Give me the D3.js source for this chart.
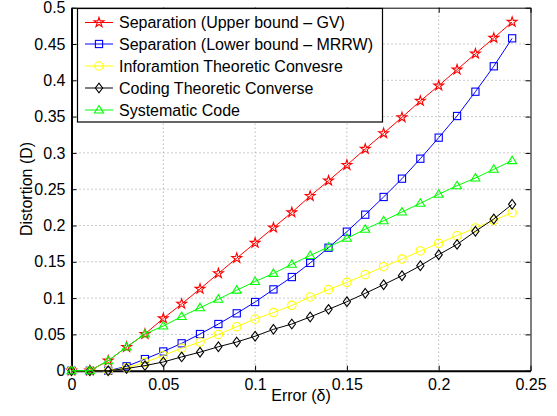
<!DOCTYPE html>
<html>
<head>
<meta charset="UTF-8">
<title>Distortion vs Error</title>
<script src="https://cdn.jsdelivr.net/npm/d3@7/dist/d3.min.js"></script>
<style>
  body { margin: 0; background: #fff; }
  text { font-family: "Liberation Sans", Arial, Helvetica, sans-serif; }
</style>
</head>
<body>
<svg id="mySvg" width="557" height="416"></svg>
<script>
    // error values delta = 0, 0.01, ..., 0.24
    var errors = [0, 0.01, 0.02, 0.03, 0.04, 0.05, 0.06, 0.07, 0.08, 0.09, 0.10, 0.11, 0.12,
        0.13, 0.14, 0.15, 0.16, 0.17, 0.18, 0.19, 0.20, 0.21, 0.22, 0.23, 0.24];
    var upperGV = [0, 0, 0.0138, 0.0326, 0.0505, 0.072, 0.092, 0.1126, 0.134, 0.155, 0.176, 0.197, 0.218,
        0.2406, 0.2617, 0.2833, 0.3054, 0.327, 0.349, 0.3715, 0.3926, 0.4146, 0.4366, 0.4583, 0.4803];
    var lowerMRRW = [0, 0, 0, 0.006, 0.016, 0.0265, 0.0377, 0.0505, 0.0643, 0.079, 0.0946, 0.112, 0.129,
        0.1485, 0.1694, 0.1915, 0.2149, 0.2393, 0.2645, 0.292, 0.321, 0.3508, 0.3843, 0.4193, 0.4578];
    var infoConverse = [0, 0, 0, 0.004, 0.0115, 0.021, 0.031, 0.0395, 0.050, 0.0606, 0.0712, 0.080, 0.090,
        0.1015, 0.1116, 0.1217, 0.1322, 0.1433, 0.1538, 0.1649, 0.1755, 0.186, 0.1966, 0.2072, 0.2176];
    var codingConverse = [0, 0, 0, 0.003, 0.007, 0.012, 0.019, 0.0255, 0.033, 0.0395, 0.0475, 0.057, 0.0643,
        0.074, 0.0845, 0.095, 0.1066, 0.1185, 0.1309, 0.1446, 0.1598, 0.174, 0.192, 0.209, 0.2292];
    var systematic = [0, 0, 0.0138, 0.0326, 0.0505, 0.0616, 0.0747, 0.0868, 0.0985, 0.111, 0.1228, 0.134, 0.1466,
        0.1587, 0.1704, 0.1824, 0.1948, 0.2066, 0.2186, 0.2306, 0.243, 0.2548, 0.2654, 0.2774, 0.2893];

    var seriesNames = ["Separation (Upper bound \u2013 GV)", "Separation (Lower bound \u2013 MRRW)",
        "Inforamtion Theoretic Convesre", "Coding Theoretic Converse", "Systematic Code"];
    var xTicks = [0, 0.05, 0.1, 0.15, 0.2, 0.25];
    var yTicks = [0, 0.05, 0.1, 0.15, 0.2, 0.25, 0.3, 0.35, 0.4, 0.45, 0.5];

    var series = [
        { name: seriesNames[0], values: upperGV, color: "#ff0000", marker: "star" },
        { name: seriesNames[1], values: lowerMRRW, color: "#0000ff", marker: "square" },
        { name: seriesNames[2], values: infoConverse, color: "#ffff00", marker: "circle" },
        { name: seriesNames[3], values: codingConverse, color: "#000000", marker: "diamond" },
        { name: seriesNames[4], values: systematic, color: "#00ff00", marker: "triangle" }
    ];

    var plot = { left: 71.5, right: 530.5, top: 7.7, bottom: 370.7 };
    var fontSize = 16;
    var svg = d3.select("#mySvg");

    var x = d3.scaleLinear().domain([0, 0.25]).range([plot.left, plot.right]);
    var y = d3.scaleLinear().domain([0, 0.5]).range([plot.bottom, plot.top]);

    // grid
    var grid = svg.append("g");
    xTicks.slice(1, -1).forEach(function (t) {
        grid.append("line").attr("x1", x(t)).attr("x2", x(t)).attr("y1", plot.top).attr("y2", plot.bottom)
            .attr("stroke", "#999").attr("stroke-width", 1).attr("stroke-dasharray", "1,3");
    });
    yTicks.slice(1, -1).forEach(function (t) {
        grid.append("line").attr("x1", plot.left).attr("x2", plot.right).attr("y1", y(t)).attr("y2", y(t))
            .attr("stroke", "#999").attr("stroke-width", 1).attr("stroke-dasharray", "1,3");
    });

    // axes (ticks inward on all four sides)
    function fmt(d) { return String(+d.toFixed(2)); }
    var axB = svg.append("g").attr("transform", "translate(0," + plot.bottom + ")")
        .call(d3.axisBottom(x).tickValues(xTicks).tickSizeInner(-5).tickSizeOuter(0).tickPadding(8).tickFormat(fmt));
    var axT = svg.append("g").attr("transform", "translate(0," + plot.top + ")")
        .call(d3.axisTop(x).tickValues(xTicks).tickSizeInner(-5).tickSizeOuter(0).tickFormat(""));
    var axL = svg.append("g").attr("transform", "translate(" + plot.left + ",0)")
        .call(d3.axisLeft(y).tickValues(yTicks).tickSizeInner(-5).tickSizeOuter(0).tickPadding(6).tickFormat(fmt));
    var axR = svg.append("g").attr("transform", "translate(" + plot.right + ",0)")
        .call(d3.axisRight(y).tickValues(yTicks).tickSizeInner(-5).tickSizeOuter(0).tickFormat(""));
    [axB, axT, axL, axR].forEach(function (a) {
        a.selectAll(".domain").attr("stroke", "#000").attr("stroke-width", 1);
        a.selectAll(".tick line").attr("stroke", "#000");
        a.selectAll("text").attr("font-size", fontSize).attr("fill", "#000")
            .style("font-family", "'Liberation Sans', Arial, sans-serif");
    });
    axB.select(".domain").attr("stroke-width", 2);
    axL.select(".domain").attr("stroke-width", 2);

    // markers
    function drawMarker(g, type, cx, cy, color) {
        if (type === "star") {
            g.append("path").attr("d", d3.symbol().type(d3.symbolStar).size(30)())
                .attr("transform", "translate(" + cx + "," + cy + ")")
                .attr("fill", "none").attr("stroke", color).attr("stroke-width", 1.1);
        } else if (type === "square") {
            g.append("rect").attr("x", cx - 3.6).attr("y", cy - 3.6).attr("width", 7.2).attr("height", 7.2)
                .attr("fill", "none").attr("stroke", color).attr("stroke-width", 1.1);
        } else if (type === "circle") {
            g.append("circle").attr("cx", cx).attr("cy", cy).attr("r", 4.2)
                .attr("fill", "none").attr("stroke", color).attr("stroke-width", 1.1);
        } else if (type === "diamond") {
            g.append("path").attr("d", "M" + cx + "," + (cy - 4.8) + "L" + (cx + 3.6) + "," + cy + "L" + cx + "," + (cy + 4.8) + "L" + (cx - 3.6) + "," + cy + "Z")
                .attr("fill", "none").attr("stroke", color).attr("stroke-width", 1.1);
        } else if (type === "triangle") {
            g.append("path").attr("d", "M" + cx + "," + (cy - 4.5) + "L" + (cx + 4.5) + "," + (cy + 3) + "L" + (cx - 4.5) + "," + (cy + 3) + "Z")
                .attr("fill", "none").attr("stroke", color).attr("stroke-width", 1.1);
        }
    }

    var line = d3.line().x(function (d, i) { return x(errors[i]); }).y(function (d) { return y(d); });
    series.forEach(function (s) {
        var g = svg.append("g");
        g.append("path").datum(s.values).attr("d", line)
            .attr("fill", "none").attr("stroke", s.color).attr("stroke-width", 1);
        s.values.forEach(function (v, i) {
            drawMarker(g, s.marker, x(errors[i]), y(v), s.color);
        });
    });

    // axis titles
    svg.append("text").attr("x", 301).attr("y", 401).attr("text-anchor", "middle")
        .attr("font-size", fontSize).text("Error (\u03b4)");
    svg.append("text").attr("transform", "translate(32,189) rotate(-90)").attr("text-anchor", "middle")
        .attr("font-size", fontSize).text("Distortion (D)");

    // legend
    var leg = svg.append("g");
    leg.append("rect").attr("x", 77.5).attr("y", 8.5).attr("width", 305).attr("height", 113.5)
        .attr("fill", "#fff").attr("stroke", "#000").attr("stroke-width", 1.2);
    var legY = [22.5, 44, 66, 88, 110];
    series.forEach(function (s, i) {
        leg.append("line").attr("x1", 85).attr("x2", 113).attr("y1", legY[i]).attr("y2", legY[i])
            .attr("stroke", s.color).attr("stroke-width", 1);
        drawMarker(leg, s.marker, 99, legY[i], s.color);
        leg.append("text").attr("x", 119).attr("y", legY[i] + 5.5).attr("font-size", fontSize).text(s.name);
    });
</script>
</body>
</html>
